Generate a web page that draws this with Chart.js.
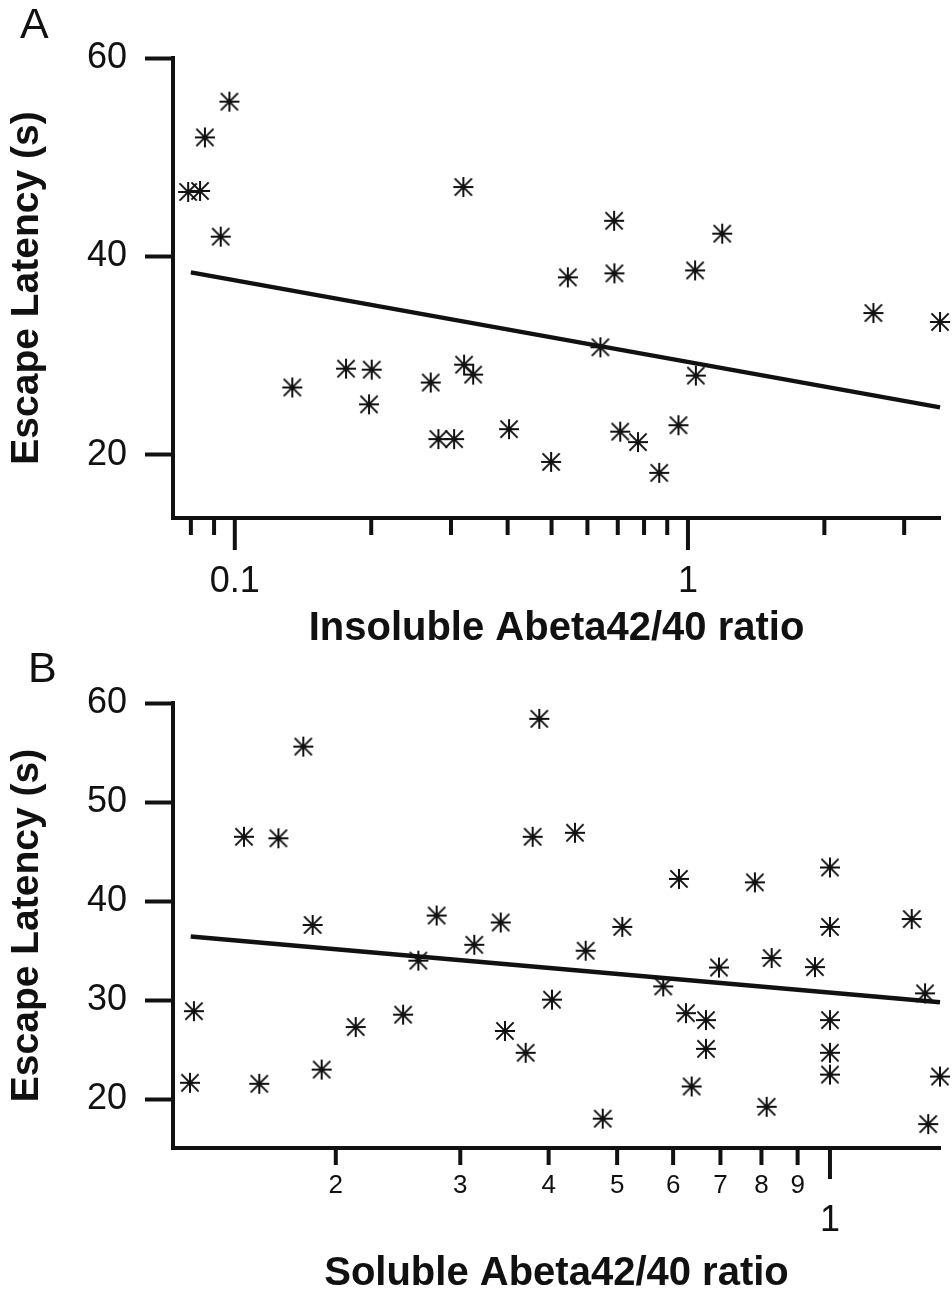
<!DOCTYPE html>
<html><head><meta charset="utf-8">
<script src="https://cdn.jsdelivr.net/npm/chart.js@4.4.1/dist/chart.umd.min.js"></script>
<style>html,body{margin:0;padding:0;background:#fff;} canvas{display:block;}</style>
</head><body>
<canvas id="cA" width="952" height="649"></canvas>
<canvas id="cB" width="952" height="649"></canvas>
<script>
// ---------- Panel A data ----------
const insolubleRatio = [0.0789,0.0838,0.0859,0.0973,0.0931,0.3194,0.1339,0.1760,0.2005,0.1978,0.2706,0.3206,0.3357,0.2814,0.3047,0.4029,0.4989,0.5431,0.6410,0.6871,0.6881,0.7087,0.7757,0.8640,0.9528,1.037,1.041,1.190,2.566,3.60];
const latencyA = [46.5,46.6,52.0,55.6,42.0,47.0,26.8,28.7,28.6,25.1,27.3,29.1,28.1,21.6,21.6,22.6,19.3,37.9,30.85,43.6,38.3,22.35,21.3,18.2,23.0,38.6,28.0,42.3,34.3,33.4];
const fitAx = [0.08, 3.6];
const fitAy = [38.4, 24.8];
const xMajorA = [0.1, 1];
const xMajorLabelsA = ['0.1', '1'];
const xMinorA = [0.08, 0.09, 0.2, 0.3, 0.4, 0.5, 0.6, 0.7, 0.8, 0.9, 2, 3];
const yTicksA = [20, 40, 60];

// ---------- Panel B data ----------
const solubleRatio = [0.1799,0.1483,0.1659,0.3880,0.3797,0.4358,0.1855,0.2778,0.3422,0.3140,0.2617,0.1260,0.2134,0.2490,0.4044,0.3470,0.3712,0.1244,0.1559,0.1910,
  0.6116,0.7832,1.0,1.305,0.5085,0.4513,1.0,0.6966,0.827,0.9523,0.5810,1.363,0.6257,0.6678,0.6678,1.0,1.0,1.0,1.431,0.6373,0.8137,0.4771,1.377];
const latencyB = [55.6,46.5,46.35,58.4,46.5,46.9,37.6,38.55,37.85,35.6,34.0,28.9,27.3,28.55,30.06,26.9,24.7,21.67,21.57,23.0,
  42.25,41.9,43.4,38.2,37.4,35.0,37.4,33.3,34.26,33.35,31.4,30.7,28.7,28.0,25.1,28.0,24.7,22.5,22.3,21.3,19.25,18.05,17.5];
const fitBx = [0.1247, 1.431];
const fitBy = [36.44, 29.8];
const xMinorB = [0.2, 0.3, 0.4, 0.5, 0.6, 0.7, 0.8, 0.9];
const xMinorLabelsB = ['2','3','4','5','6','7','8','9'];
const xMajorB = [1];
const xMajorLabelsB = ['1'];
const yTicksB = [20, 30, 40, 50, 60];

const FONT = "'Liberation Sans', Arial, Helvetica, sans-serif";
const INK = '#111';

// asterisk marker (8 arms) used as the point style
function makeStar(size, lw) {
  const c = document.createElement('canvas');
  c.width = c.height = size;
  const g = c.getContext('2d');
  const h = size / 2, r = h - 1, d = r * 0.86;
  g.strokeStyle = INK; g.lineWidth = lw; g.lineCap = 'butt';
  g.beginPath();
  g.moveTo(h, h - r); g.lineTo(h, h + r);
  g.moveTo(h - r, h); g.lineTo(h + r, h);
  g.moveTo(h - d, h - d); g.lineTo(h + d, h + d);
  g.moveTo(h - d, h + d); g.lineTo(h + d, h - d);
  g.stroke();
  return c;
}
const STAR = makeStar(22, 2);

const xTickPlugin = {
  id: 'xTickMarks',
  afterDraw(chart, args, opts) {
    const ctx = chart.ctx, area = chart.chartArea, sx = chart.scales.x;
    ctx.save();
    ctx.strokeStyle = INK;
    ctx.lineWidth = 4;
    ctx.lineCap = 'butt';
    const draw = (vals, len) => vals.forEach(v => {
      const px = sx.getPixelForValue(v);
      ctx.beginPath();
      ctx.moveTo(px, area.bottom);
      ctx.lineTo(px, area.bottom + len);
      ctx.stroke();
    });
    draw(opts.minor, opts.minorLen);
    draw(opts.major, opts.majorLen);
    ctx.restore();
  }
};

function pts(xs, ys) { return xs.map((x, i) => ({x: x, y: ys[i]})); }

function build(id, p) {
  const tickVals = p.labelVals;
  return new Chart(document.getElementById(id), {
    type: 'scatter',
    data: {
      datasets: [
        {data: pts(p.xs, p.ys), pointStyle: STAR, pointRadius: 11, pointHoverRadius: 11,
         pointBorderColor: INK, pointBackgroundColor: INK, showLine: false, clip: false},
        {data: pts(p.fx, p.fy), showLine: true, pointRadius: 0, borderWidth: 4.5,
         borderColor: INK, tension: 0, clip: false}
      ]
    },
    options: {
      responsive: false, animation: false, devicePixelRatio: 1,
      events: [],
      layout: {padding: {left: p.padLeft, right: 12, top: 0, bottom: 0}},
      plugins: {
        legend: {display: false}, tooltip: {enabled: false},
        title: {display: true, text: p.panel, align: 'start', color: INK,
          font: {family: FONT, size: 43, weight: 'normal', lineHeight: 1},
          padding: p.panelPad},
        xTickMarks: {minor: p.minor, major: p.major, minorLen: p.minorLen, majorLen: p.majorLen}
      },
      scales: {
        x: {
          type: 'logarithmic', bounds: 'data', min: p.xmin, max: p.xmax,
          afterFit(s) { s.height = p.xHeight; },
          afterBuildTicks(s) { s.ticks = tickVals.map(v => ({value: v})); },
          ticks: {autoSkip: false, maxRotation: 0, minRotation: 0, padding: p.xLabelPad, color: INK,
            font: p.xFont, callback: (v, i) => p.labels[i]},
          grid: {display: true, drawOnChartArea: false, drawTicks: false},
          border: {display: true, color: INK, width: 4},
          title: {display: true, text: p.xTitle, color: INK,
            font: {family: FONT, size: 40, weight: 'bold', lineHeight: 1},
            padding: {top: 0, bottom: p.xTitlePad}}
        },
        y: {
          type: 'linear', bounds: 'data', min: p.ymin, max: 60,
          afterFit(s) { s.width = p.yWidth; },
          afterBuildTicks(s) { s.ticks = p.yTicks.map(v => ({value: v})); },
          ticks: {padding: 18, color: INK, font: {family: FONT, size: 36}, callback: v => String(v)},
          grid: {drawOnChartArea: false, drawTicks: true, tickLength: 28, tickWidth: 4, tickColor: INK},
          border: {display: true, color: INK, width: 4},
          title: {display: true, text: 'Escape Latency (s)', color: INK,
            font: {family: FONT, size: 39, weight: 'bold', lineHeight: 1},
            padding: {top: p.yTitlePad, bottom: 0}}
        }
      }
    },
    plugins: [xTickPlugin]
  });
}

build('cA', {
  panel: 'A', panelPad: {top: 5, bottom: 10}, padLeft: 20, yWidth: 153, yTitlePad: -12,
  xs: insolubleRatio, ys: latencyA, fx: fitAx, fy: fitAy,
  xmin: 0.07305, xmax: 3.599, ymin: 13.65, yTicks: yTicksA,
  xHeight: 131, labelVals: xMajorA, labels: xMajorLabelsA, xLabelPad: 42.4,
  xFont: {family: FONT, size: 36},
  minor: xMinorA, major: xMajorA, minorLen: 17, majorLen: 32,
  xTitle: 'Insoluble Abeta42/40 ratio', xTitlePad: 0
});

build('cB', {
  panel: 'B', panelPad: {top: 0, bottom: 11}, padLeft: 28, yWidth: 145, yTitlePad: -20,
  xs: solubleRatio, ys: latencyB, fx: fitBx, fy: fitBy,
  xmin: 0.1177, xmax: 1.431, ymin: 15.09, yTicks: yTicksB,
  xHeight: 150, labelVals: xMinorB.concat(xMajorB), labels: xMinorLabelsB.concat(xMajorLabelsB), xLabelPad: 22.4,
  xFont: (ctx) => (ctx.tick && xMajorB.indexOf(ctx.tick.value) >= 0)
      ? {family: FONT, size: 36, lineHeight: 2.81}
      : {family: FONT, size: 26, lineHeight: 1.2},
  minor: xMinorB, major: xMajorB, minorLen: 17, majorLen: 31,
  xTitle: 'Soluble Abeta42/40 ratio', xTitlePad: 4
});
</script>
</body></html>
